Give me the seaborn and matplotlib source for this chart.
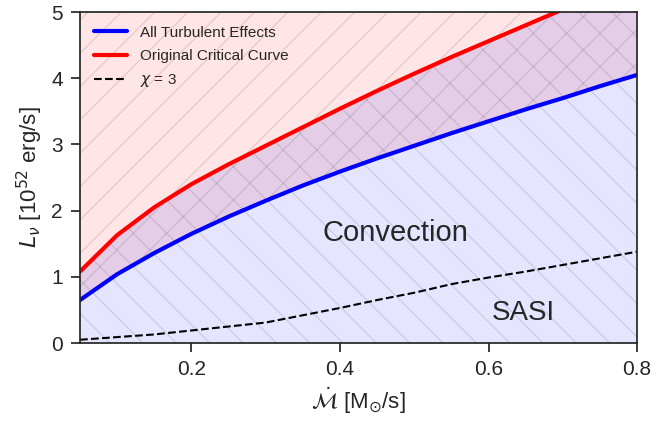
import numpy as np
import matplotlib
matplotlib.use('Agg')
import matplotlib.pyplot as plt
import seaborn as sns

# accretion rate grid [Msun/s]
mdot = [0.05, 0.10, 0.15, 0.20, 0.25, 0.30, 0.35, 0.40,
        0.45, 0.50, 0.55, 0.60, 0.65, 0.70, 0.75, 0.80]
# critical luminosities [1e52 erg/s]
L_turb = [0.65, 1.04, 1.36, 1.65, 1.91, 2.15, 2.38, 2.59,
          2.79, 2.98, 3.17, 3.35, 3.53, 3.70, 3.88, 4.05]
L_orig = [1.08, 1.63, 2.05, 2.40, 2.70, 2.98, 3.26, 3.54,
          3.81, 4.07, 4.32, 4.56, 4.80, 5.04, 5.28, 5.52]
L_chi3 = [0.05, 0.09, 0.13, 0.19, 0.25, 0.31, 0.42, 0.53,
          0.65, 0.76, 0.89, 0.99, 1.08, 1.18, 1.28, 1.38]

sns.set_style('ticks')
plt.rcParams['font.family'] = ['Liberation Sans', 'DejaVu Sans']
plt.rcParams['hatch.linewidth'] = 1.0

fig = plt.figure(figsize=(6.57, 4.23), dpi=100)
ax = fig.add_axes([0.1218, 0.189, 0.848, 0.7826])

ymax = 5.0
# shaded regions
ax.fill_between(mdot, L_turb, 10, facecolor='red', edgecolor='k',
                alpha=0.1, hatch='/', linewidth=0)
ax.fill_between(mdot, 0, L_orig, facecolor='blue', edgecolor='k',
                alpha=0.1, hatch='\\', linewidth=0)

sns.lineplot(x=mdot, y=L_turb, ax=ax, color='blue', lw=3,
             label='All Turbulent Effects')
sns.lineplot(x=mdot, y=L_orig, ax=ax, color='red', lw=3,
             label='Original Critical Curve')
sns.lineplot(x=mdot, y=L_chi3, ax=ax, color='k', lw=1.5, linestyle='--',
             label=r'$\chi$ = 3')

ax.text(0.474, 1.66, 'Convection', fontsize=21, color='.15',
        ha='center', va='center')
ax.text(0.647, 0.45, 'SASI', fontsize=20, color='.15',
        ha='center', va='center')

ax.set_xlim(0.05, 0.8)
ax.set_ylim(0, ymax)
ax.set_xticks([0.2, 0.4, 0.6, 0.8])
ax.set_yticks([0, 1, 2, 3, 4, 5])
ax.tick_params(labelsize=15, length=6.5, width=1.25, pad=6)
for s in ax.spines.values():
    s.set_linewidth(1.25)
ax.set_xlabel(r'$\dot{\mathcal{M}}$ [M$_{\odot}$/s]', fontsize=16)
ax.set_ylabel(r'$L_{\nu}$ [10$^{52}$ erg/s]', fontsize=16)

ax.legend(loc='upper left', frameon=False, fontsize=11,
          handlelength=2.2, borderaxespad=0.5, labelspacing=0.6)

fig.savefig('out.png', dpi=100)
